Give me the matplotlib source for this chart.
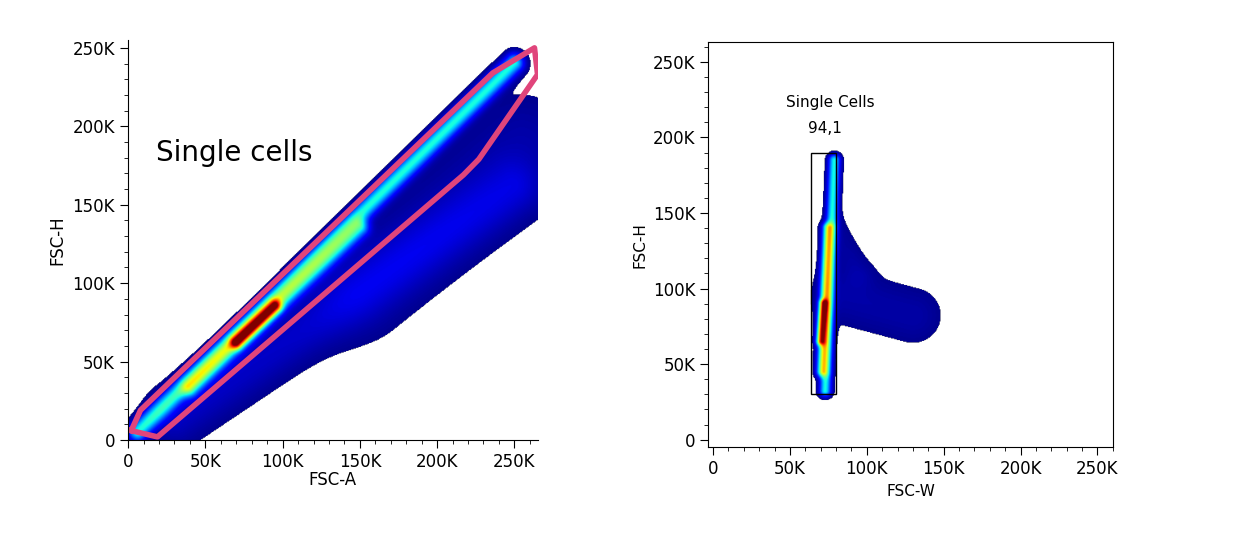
import numpy as np
import matplotlib.pyplot as plt
from matplotlib.ticker import MultipleLocator, FuncFormatter

# populations: segment start/end (K units), spread (K), weight
left_pops = [
    # x0, y0, x1, y1, spread, weight
    (6, 5, 250, 240, 4, 0.3),
    (40, 33, 150, 135, 4, 0.25),
    (70, 62, 95, 85, 3, 0.45),
    (30, 15, 250, 160, 13, 0.05),
    (150, 95, 255, 190, 22, 0.03),
]
right_pops = [
    (73, 32, 79, 185, 2.5, 0.3),
    (71, 45, 75, 140, 2.5, 0.35),
    (70, 65, 72, 90, 2, 0.4),
    (82, 95, 130, 82, 14, 0.028),
    (80, 140, 95, 110, 7, 0.02),
]
left_gate_x = [2, 8, 236, 263, 265, 227, 217, 19, 2]
left_gate_y = [6, 19, 234, 250, 233, 179, 169, 2, 6]
right_gate = (64, 30, 80, 190)  # x0, y0, x1, y1 in K
ticks = [0, 50, 100, 150, 200, 250]


def density(pops, xlim, ylim, n=500):
    gx, gy = np.meshgrid(np.linspace(*xlim, n), np.linspace(*ylim, n))
    d = np.zeros_like(gx)
    for x0, y0, x1, y1, s, w in pops:
        vx, vy = x1 - x0, y1 - y0
        t = np.clip(((gx - x0) * vx + (gy - y0) * vy) / (vx**2 + vy**2), 0, 1)
        dist2 = (gx - x0 - t * vx) ** 2 + (gy - y0 - t * vy) ** 2
        d += w * np.exp(-dist2 / (2 * s**2))
    return np.ma.masked_less(d, 0.012)


def kfmt(v, _):
    return "0" if v == 0 else f"{int(v)}K"


fig = plt.figure(figsize=(12.56, 5.48), dpi=100)

ax1 = fig.add_axes([0.102, 0.197, 0.326, 0.730])
xl, yl = (0, 265), (0, 255)
ax1.imshow(density(left_pops, xl, yl), origin="lower", extent=[*xl, *yl],
           cmap="jet", aspect="auto", vmin=0.0, vmax=0.8)
ax1.plot(left_gate_x, left_gate_y, color="#e0457b", lw=4)
ax1.text(18, 183, "Single cells", fontsize=20, va="center")
ax1.set_xlim(xl)
ax1.set_ylim(yl)
ax1.set_xlabel("FSC-A", fontsize=12, labelpad=0)
ax1.set_ylabel("FSC-H", fontsize=12)
ax1.spines[["top", "right"]].set_visible(False)

ax2 = fig.add_axes([0.564, 0.184, 0.322, 0.739])
xl2, yl2 = (-3, 260), (-5, 263)
ax2.imshow(density(right_pops, xl2, yl2), origin="lower", extent=[*xl2, *yl2],
           cmap="jet", aspect="auto", vmin=0.0, vmax=0.8)
x0, y0, x1, y1 = right_gate
ax2.add_patch(plt.Rectangle((x0, y0), x1 - x0, y1 - y0, fill=False, ec="black", lw=1))
ax2.text(76, 223, "Single Cells", ha="center", va="center", fontsize=11)
ax2.text(73, 206, "94,1", ha="center", va="center", fontsize=11)
ax2.set_xlim(xl2)
ax2.set_ylim(yl2)
ax2.set_xlabel("FSC-W", fontsize=11)
ax2.set_ylabel("FSC-H", fontsize=11)

for ax in (ax1, ax2):
    ax.set_xticks(ticks)
    ax.set_yticks(ticks)
    ax.xaxis.set_minor_locator(MultipleLocator(10))
    ax.yaxis.set_minor_locator(MultipleLocator(10))
    ax.xaxis.set_major_formatter(FuncFormatter(kfmt))
    ax.yaxis.set_major_formatter(FuncFormatter(kfmt))
    ax.tick_params(labelsize=12, length=6)
    ax.tick_params(which="minor", length=3)

fig.savefig("out.png", dpi=100)
